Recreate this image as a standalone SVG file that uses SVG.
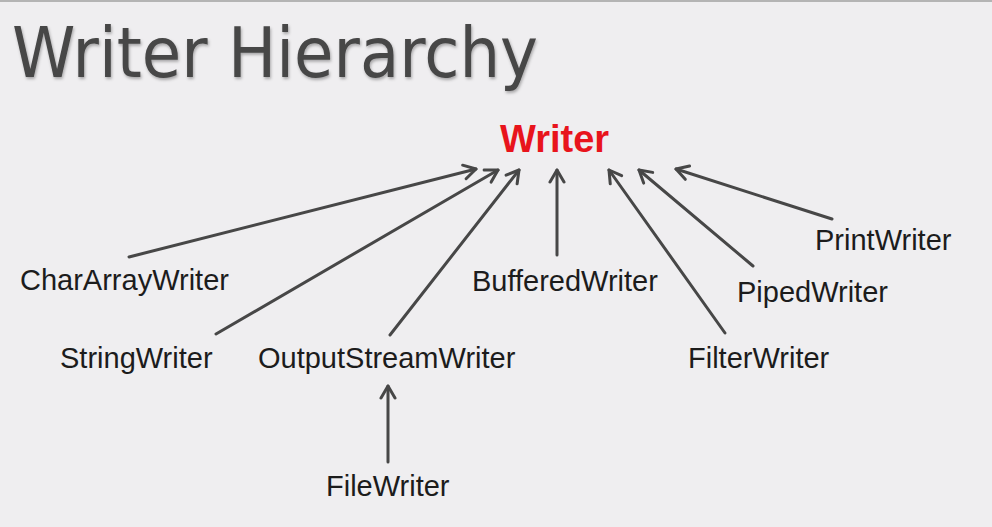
<svg xmlns="http://www.w3.org/2000/svg" width="992" height="527" viewBox="0 0 992 527">
<style>
.lbl{font-family:"Liberation Sans",Arial,sans-serif;font-size:29px;fill:#1c1c1c}
.conn line{stroke:#474747;stroke-width:3;stroke-linecap:round;marker-end:url(#arr)}
</style>
<defs>
<marker id="arr" markerUnits="userSpaceOnUse" viewBox="0 0 18 18" markerWidth="18" markerHeight="18" refX="15" refY="9" orient="auto">
<path d="M3,2 L15,9 L3,16" fill="none" stroke="#474747" stroke-width="3" stroke-linecap="round" stroke-linejoin="round"/>
</marker>
<filter id="sh" x="-5%" y="-20%" width="110%" height="140%">
<feDropShadow dx="1" dy="2" stdDeviation="1.5" flood-color="#000" flood-opacity="0.3"/>
</filter>
</defs>
<rect width="992" height="527" fill="#efeef0"/>
<rect width="992" height="2" fill="#b4b4b4"/>
<text x="12" y="77" font-family="'DejaVu Sans',sans-serif" font-size="70" fill="#474747" textLength="526" lengthAdjust="spacingAndGlyphs" filter="url(#sh)">Writer Hierarchy</text>
<g id="connectors" class="conn">
<line x1="129" y1="257" x2="476" y2="169"/>
<line x1="216" y1="334" x2="498" y2="170"/>
<line x1="390" y1="335" x2="519" y2="170"/>
<line x1="557" y1="255" x2="557" y2="170"/>
<line x1="725" y1="333" x2="609" y2="170"/>
<line x1="753" y1="266" x2="639" y2="170"/>
<line x1="832" y1="219" x2="676" y2="169"/>
<line x1="388" y1="462" x2="388" y2="386"/>
</g>
<g id="Writer"><text x="500" y="152" font-family="'Liberation Sans',Arial,sans-serif" font-weight="bold" font-size="38" fill="#e8141c">Writer</text></g>
<g id="CharArrayWriter"><text class="lbl" x="20" y="290">CharArrayWriter</text></g>
<g id="StringWriter"><text class="lbl" x="60" y="368">StringWriter</text></g>
<g id="OutputStreamWriter"><text class="lbl" x="258" y="368">OutputStreamWriter</text></g>
<g id="BufferedWriter"><text class="lbl" x="472" y="291">BufferedWriter</text></g>
<g id="FilterWriter"><text class="lbl" x="688" y="368">FilterWriter</text></g>
<g id="PipedWriter"><text class="lbl" x="737" y="302">PipedWriter</text></g>
<g id="PrintWriter"><text class="lbl" x="815" y="250">PrintWriter</text></g>
<g id="FileWriter"><text class="lbl" x="326" y="496">FileWriter</text></g>
</svg>
